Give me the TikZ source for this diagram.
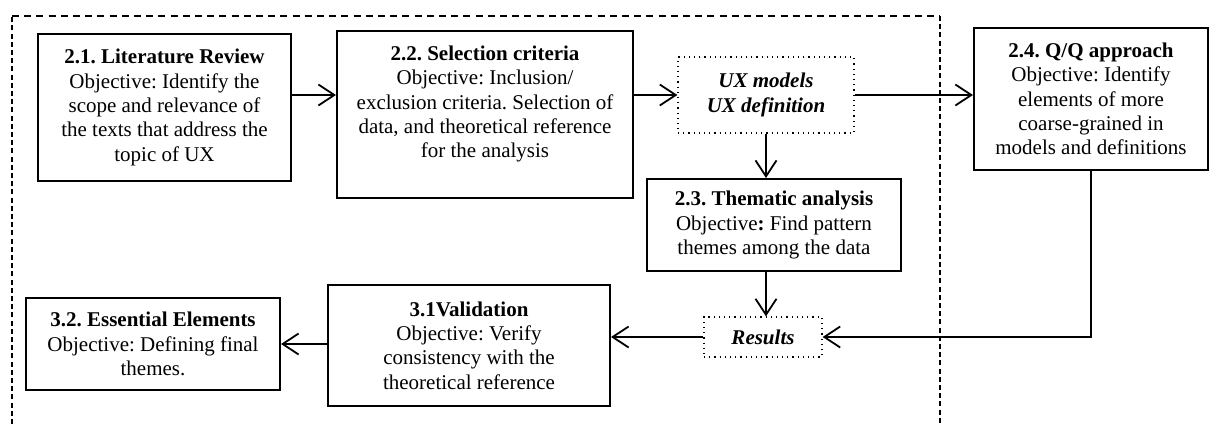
\documentclass[tikz,border=0pt]{standalone}
\usepackage{fontspec}
\setmainfont{Liberation Serif}
\usetikzlibrary{arrows.meta}
\frenchspacing
\tikzset{
  box/.style={draw=black, line width=1pt, fill=white, inner sep=2pt, align=center,
    font=\fontsize{10.5}{12.2}\selectfont},
  dotbox/.style={draw=black, line width=0.6pt, dotted, inner sep=2pt, align=center,
    font=\fontsize{10.5}{12.2}\selectfont},
  plain/.style={inner sep=0pt, align=center, font=\fontsize{10.5}{12.2}\selectfont},
  arr/.style={line width=0.9pt, -{Straight Barb[length=8pt,width=10.5pt,line width=0.9pt]}},
  frame/.style={line width=0.9pt},
}
\begin{document}
\begin{tikzpicture}[x=0.5pt,y=-0.5pt]
\useasboundingbox (0,0) rectangle (1212,424);

% dashed frame around the literature-study phase
\coordinate (fbl) at (12,424);
\coordinate (ftl) at (12,16);
\coordinate (ftr) at (940,16);
\coordinate (fbr) at (940,424);
\draw[frame, dash pattern=on 2.5pt off 1.6pt] (fbl) -- (ftl);
\draw[frame, dash pattern=on 3.5pt off 2.6pt] (ftl) -- (ftr);
\draw[frame, dash pattern=on 2.5pt off 1.6pt] (ftr) -- (fbr);

% steps
\node[box, minimum width=126.5pt, minimum height=73.5pt] (b21) at (164.5,107.5)
  {\textbf{2.1. Literature Review}\\Objective: Identify the\\scope and relevance of\\the texts that address the\\topic of UX};

\node[box, minimum width=148pt, minimum height=83.5pt] (b22) at (485,114.5) {};
\node[plain] (t22) at (485,104)
  {\textbf{2.2. Selection criteria}\\Objective: Inclusion/\\exclusion criteria. Selection of\\data, and theoretical reference\\for the analysis};

\node[dotbox, minimum width=88pt, minimum height=38pt] (ux) at (766,95)
  {\textbf{\textit{UX models}}\\\textbf{\textit{UX definition}}};

\node[box, minimum width=117pt, minimum height=71pt] (b24) at (1091,99)
  {\textbf{2.4. Q/Q approach}\\Objective: Identify\\elements of more\\coarse-grained in\\models and definitions};

\node[box, minimum width=127pt, minimum height=46pt] (b23) at (774,225)
  {\textbf{2.3. Thematic analysis}\\Objective\textbf{:} Find pattern\\themes among the data};

\node[dotbox, minimum width=59pt, minimum height=20pt] (res) at (763,337)
  {\textbf{\textit{Results}}};

\node[box, minimum width=141pt, minimum height=60.5pt] (b31) at (469,345.5)
  {\textbf{3.1Validation}\\Objective: Verify\\consistency with the\\theoretical reference};

\node[box, minimum width=127pt, minimum height=46pt] (b32) at (153,344)
  {\textbf{3.2. Essential Elements}\\Objective: Defining final\\themes.};

% connectors
\draw[arr] (b21.east |- ux.west) -- (b22.west |- ux.west);
\draw[arr] (b22.east |- ux.west) -- (ux.west);
\draw[arr] (ux.east) -- (b24.west |- ux.east);
\draw[arr] (ux.south) -- (b23.north -| ux.south);
\draw[arr] (b23.south -| ux.south) -- (res.north -| ux.south);
\draw[arr] (b24.south) -- (b24.south |- res.east) -- (res.east);
\draw[arr] (res.west) -- (b31.east |- res.west);
\draw[arr] (b31.west |- b32.east) -- (b32.east);
\end{tikzpicture}
\end{document}
